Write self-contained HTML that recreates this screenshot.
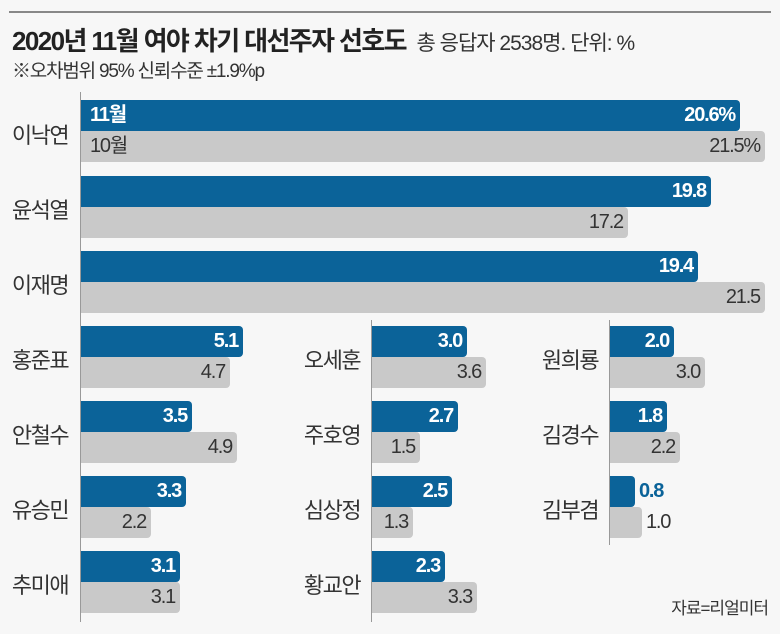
<!DOCTYPE html>
<html><head><meta charset="utf-8"><style>
body{margin:0;background:#f7f7f7;}
#c{position:relative;width:780px;height:634px;background:#f7f7f7;overflow:hidden;font-family:"Liberation Sans","Noto Sans CJK KR",sans-serif;color:#222;}
.a{position:absolute;}
.b,.g{position:absolute;height:31px;border-radius:0 4px 4px 0;box-sizing:border-box;font-size:20px;line-height:31px;text-align:right;padding-right:5px;letter-spacing:-1.2px;}
.b{background:#0b6399;color:#fff;font-weight:bold;}
.g{background:#c9c9c9;color:#333;}
.ax{position:absolute;width:1px;background:#999;}
.l{position:absolute;font-size:22px;letter-spacing:-1.5px;color:#333;width:80px;text-align:center;}
</style></head><body><div id="c">
<div class="a" style="left:9px;top:11px;width:762px;height:2px;background:#888"></div>
<div class="a" style="left:12px;top:21px;font-size:26px;font-weight:bold;letter-spacing:-1.6px;color:#222">2020년 11월 여야 차기 대선주자 선호도 <span style="font-size:21px;font-weight:normal;letter-spacing:-1px;color:#333">&nbsp;총 응답자 2538명. 단위: %</span></div>
<div class="a" style="left:12px;top:56px;font-size:19px;letter-spacing:-1.2px;color:#333">※오차범위 95% 신뢰수준 ±1.9%p</div>

<div class="ax" style="left:80px;top:92px;height:530px"></div>
<div class="ax" style="left:371px;top:320px;height:302px"></div>
<div class="ax" style="left:609px;top:320px;height:225px"></div>

<div class="l" style="left:0;top:118px">이낙연</div>
<div class="b" style="left:81px;top:100px;width:659px"><span style="position:absolute;left:9px">11월</span>20.6%</div>
<div class="g" style="left:81px;top:131px;width:684px"><span style="position:absolute;left:9px">10월</span>21.5%</div>
<div class="l" style="left:0;top:193px">윤석열</div>
<div class="b" style="left:81px;top:176px;width:630px">19.8</div>
<div class="g" style="left:81px;top:207px;width:547px">17.2</div>
<div class="l" style="left:0;top:268px">이재명</div>
<div class="b" style="left:81px;top:251px;width:617px">19.4</div>
<div class="g" style="left:81px;top:282px;width:684px">21.5</div>

<div class="l" style="left:0;top:343px">홍준표</div>
<div class="b" style="left:81px;top:326px;width:162px">5.1</div>
<div class="g" style="left:81px;top:357px;width:149px">4.7</div>
<div class="l" style="left:0;top:418px">안철수</div>
<div class="b" style="left:81px;top:401px;width:111px">3.5</div>
<div class="g" style="left:81px;top:432px;width:156px">4.9</div>
<div class="l" style="left:0;top:493px">유승민</div>
<div class="b" style="left:81px;top:476px;width:105px">3.3</div>
<div class="g" style="left:81px;top:507px;width:70px">2.2</div>
<div class="l" style="left:0;top:568px">추미애</div>
<div class="b" style="left:81px;top:551px;width:99px">3.1</div>
<div class="g" style="left:81px;top:582px;width:99px">3.1</div>

<div class="l" style="left:292px;top:343px">오세훈</div>
<div class="b" style="left:372px;top:326px;width:95px">3.0</div>
<div class="g" style="left:372px;top:357px;width:114px">3.6</div>
<div class="l" style="left:292px;top:418px">주호영</div>
<div class="b" style="left:372px;top:401px;width:86px">2.7</div>
<div class="g" style="left:372px;top:432px;width:48px">1.5</div>
<div class="l" style="left:292px;top:493px">심상정</div>
<div class="b" style="left:372px;top:476px;width:80px">2.5</div>
<div class="g" style="left:372px;top:507px;width:41px">1.3</div>
<div class="l" style="left:292px;top:568px">황교안</div>
<div class="b" style="left:372px;top:551px;width:73px">2.3</div>
<div class="g" style="left:372px;top:582px;width:105px">3.3</div>

<div class="l" style="left:530px;top:343px">원희룡</div>
<div class="b" style="left:610px;top:326px;width:64px">2.0</div>
<div class="g" style="left:610px;top:357px;width:95px">3.0</div>
<div class="l" style="left:530px;top:418px">김경수</div>
<div class="b" style="left:610px;top:401px;width:57px">1.8</div>
<div class="g" style="left:610px;top:432px;width:70px">2.2</div>
<div class="l" style="left:530px;top:493px">김부겸</div>
<div class="b" style="left:610px;top:476px;width:25px"></div>
<div class="a" style="left:639px;top:476px;line-height:31px;font-size:20px;font-weight:bold;color:#0b6399;letter-spacing:-1.2px">0.8</div>
<div class="g" style="left:610px;top:507px;width:32px"></div>
<div class="a" style="left:646px;top:507px;line-height:31px;font-size:20px;color:#333;letter-spacing:-1.2px">1.0</div>

<div class="a" style="right:12px;top:594px;font-size:17px;letter-spacing:-1px;color:#333">자료=리얼미터</div>
</div></body></html>
